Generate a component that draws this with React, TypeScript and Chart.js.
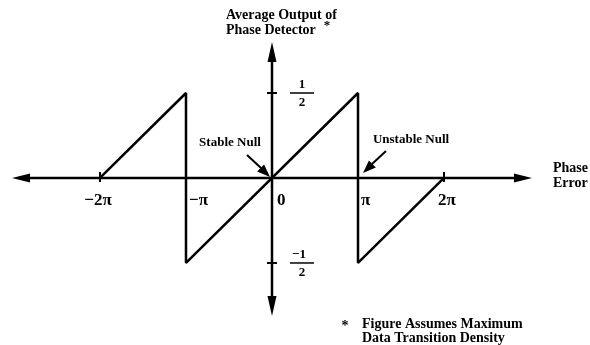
import React, { useEffect, useRef } from "react";
import { Chart, registerables } from "chart.js";

Chart.register(...registerables);

// Phase error (in multiples of π) and average phase-detector output
const phaseError = [-2, -1, -1, 1, 1, 2];
const detectorOutput = [0, 0.5, -0.5, 0.5, -0.5, 0];

// Axis annotations
const xTickValues = [-2, -1, 0, 1, 2];
const xTickLabels = ["−2π", "−π", "0", "π", "2π"];
const xCrossTicks = [-2, -1, 1, 2];
const yTickValues = [0.5, -0.5];
const yTickNumerators = ["1", "−1"];
const yTickDenominator = "2";

// Null points on the phase-error axis
const nullPhases = [0, 1];
const nullLabels = ["Stable Null", "Unstable Null"];

const titleLines = ["Average Output of", "Phase Detector"];
const xAxisTitle = ["Phase", "Error"];
const footnoteLines = ["Figure Assumes Maximum", "Data Transition Density"];

const X_MIN = -3.023;
const X_MAX = 3.023;
const Y_MIN = -0.812;
const Y_MAX = 0.8;

const SERIF = '"Liberation Serif", "Times New Roman", serif';

function arrowHead(
  ctx: CanvasRenderingContext2D,
  tipX: number,
  tipY: number,
  dx: number,
  dy: number,
  len: number,
  halfW: number
) {
  const n = Math.hypot(dx, dy);
  const ux = dx / n;
  const uy = dy / n;
  const bx = tipX - ux * len;
  const by = tipY - uy * len;
  ctx.beginPath();
  ctx.moveTo(tipX, tipY);
  ctx.lineTo(bx - uy * halfW, by + ux * halfW);
  ctx.lineTo(bx + uy * halfW, by - ux * halfW);
  ctx.closePath();
  ctx.fill();
}

function segment(ctx: CanvasRenderingContext2D, x1: number, y1: number, x2: number, y2: number) {
  ctx.beginPath();
  ctx.moveTo(x1, y1);
  ctx.lineTo(x2, y2);
  ctx.stroke();
}

function text(
  ctx: CanvasRenderingContext2D,
  s: string,
  x: number,
  y: number,
  size: number,
  align: CanvasTextAlign = "left"
) {
  ctx.font = `bold ${size}px ${SERIF}`;
  ctx.textAlign = align;
  ctx.textBaseline = "middle";
  ctx.fillText(s, x, y);
}

const phaseAxesPlugin = {
  id: "phaseAxes",
  afterDatasetsDraw(chart: Chart) {
    const ctx = chart.ctx;
    const xs = chart.scales.x;
    const ys = chart.scales.y;
    const area = chart.chartArea;
    const x0 = xs.getPixelForValue(0);
    const y0 = ys.getPixelForValue(0);

    ctx.save();
    ctx.strokeStyle = "#000";
    ctx.fillStyle = "#000";
    ctx.lineCap = "butt";

    // Horizontal axis with arrows at both ends
    ctx.lineWidth = 2.5;
    segment(ctx, area.left + 8, y0, area.right - 8, y0);
    arrowHead(ctx, area.left, y0, -1, 0, 18, 4.5);
    arrowHead(ctx, area.right, y0, 1, 0, 18, 4.5);

    // Vertical axis with arrows at both ends
    segment(ctx, x0, area.top + 8, x0, area.bottom - 8);
    arrowHead(ctx, x0, area.top, 0, -1, 20, 4.5);
    arrowHead(ctx, x0, area.bottom, 0, 1, 20, 4.5);

    // Cross ticks
    ctx.lineWidth = 2;
    xCrossTicks.forEach((v) => {
      const px = xs.getPixelForValue(v);
      segment(ctx, px, y0 - 6, px, y0 + 4);
    });
    yTickValues.forEach((v) => {
      const py = ys.getPixelForValue(v);
      segment(ctx, x0 - 5, py, x0 + 5, py);
    });

    // Phase-error tick labels
    xTickValues.forEach((v, i) => {
      const px = xs.getPixelForValue(v);
      const lab = xTickLabels[i];
      if (Math.abs(v) === 2) {
        text(ctx, lab, px + (v > 0 ? 3 : -2), y0 + 23, 17, "center");
      } else {
        text(ctx, lab, px + (v === 0 ? 5 : 3), y0 + 23, 17, "left");
      }
    });

    // Output tick labels as stacked fractions
    yTickValues.forEach((v, i) => {
      const py = ys.getPixelForValue(v);
      const cx = x0 + 30;
      ctx.lineWidth = 1.5;
      segment(ctx, cx - 12, py, cx + 12, py);
      text(ctx, yTickNumerators[i], cx - (i === 1 ? 3 : 0), py - 8, 13, "center");
      text(ctx, yTickDenominator, cx, py + 10, 13, "center");
    });

    // Null annotations with pointer arrows
    ctx.lineWidth = 2;
    nullPhases.forEach((v, i) => {
      const px = xs.getPixelForValue(v);
      const stable = i === 0;
      const side = stable ? -1 : 1;
      const tipX = px + (stable ? -2 : 5);
      const tipY = y0 + (stable ? -1 : -5);
      const tailX = tipX + side * 23;
      const tailY = tipY - 22;
      segment(ctx, tailX, tailY, tipX + side * 9, tipY - 9);
      arrowHead(ctx, tipX, tipY, -side * 23, 22, 13, 5);
      text(ctx, nullLabels[i], px + (stable ? -42 : 53), y0 + (stable ? -35 : -38), 13, "center");
    });

    // Vertical-axis title
    text(ctx, titleLines[0], x0 - 46, 15, 14);
    text(ctx, titleLines[1], x0 - 46, 30, 14);
    text(ctx, "*", x0 + 55, 26, 13, "center");

    // Horizontal-axis title
    text(ctx, xAxisTitle[0], area.right + 21, y0 - 10, 14);
    text(ctx, xAxisTitle[1], area.right + 21, y0 + 5, 14);

    // Footnote
    text(ctx, "*", 345, 326, 14, "center");
    text(ctx, footnoteLines[0], 362, 324, 14);
    text(ctx, footnoteLines[1], 362, 338, 14);

    ctx.restore();
  },
};

export default function App() {
  const canvasRef = useRef<HTMLCanvasElement | null>(null);

  useEffect(() => {
    const canvas = canvasRef.current;
    if (!canvas) return;
    const chart = new Chart(canvas, {
      type: "scatter",
      data: {
        datasets: [
          {
            data: phaseError.map((x, i) => ({ x, y: detectorOutput[i] })),
            showLine: true,
            borderColor: "#000",
            borderWidth: 2.5,
            borderJoinStyle: "bevel",
            pointRadius: 0,
            tension: 0,
            clip: false,
          },
        ],
      },
      options: {
        animation: false,
        responsive: false,
        maintainAspectRatio: false,
        events: [],
        layout: { padding: { left: 12, right: 58, top: 42, bottom: 29 } },
        plugins: {
          legend: { display: false },
          tooltip: { enabled: false },
        },
        scales: {
          x: { type: "linear", min: X_MIN, max: X_MAX, display: false },
          y: { type: "linear", min: Y_MIN, max: Y_MAX, display: false },
        },
      },
      plugins: [phaseAxesPlugin],
    });
    return () => chart.destroy();
  }, []);

  return (
    <div style={{ position: "absolute", left: 0, top: 0, width: 590, height: 345, background: "#fff" }}>
      <canvas ref={canvasRef} width={590} height={345} style={{ display: "block" }} />
    </div>
  );
}
